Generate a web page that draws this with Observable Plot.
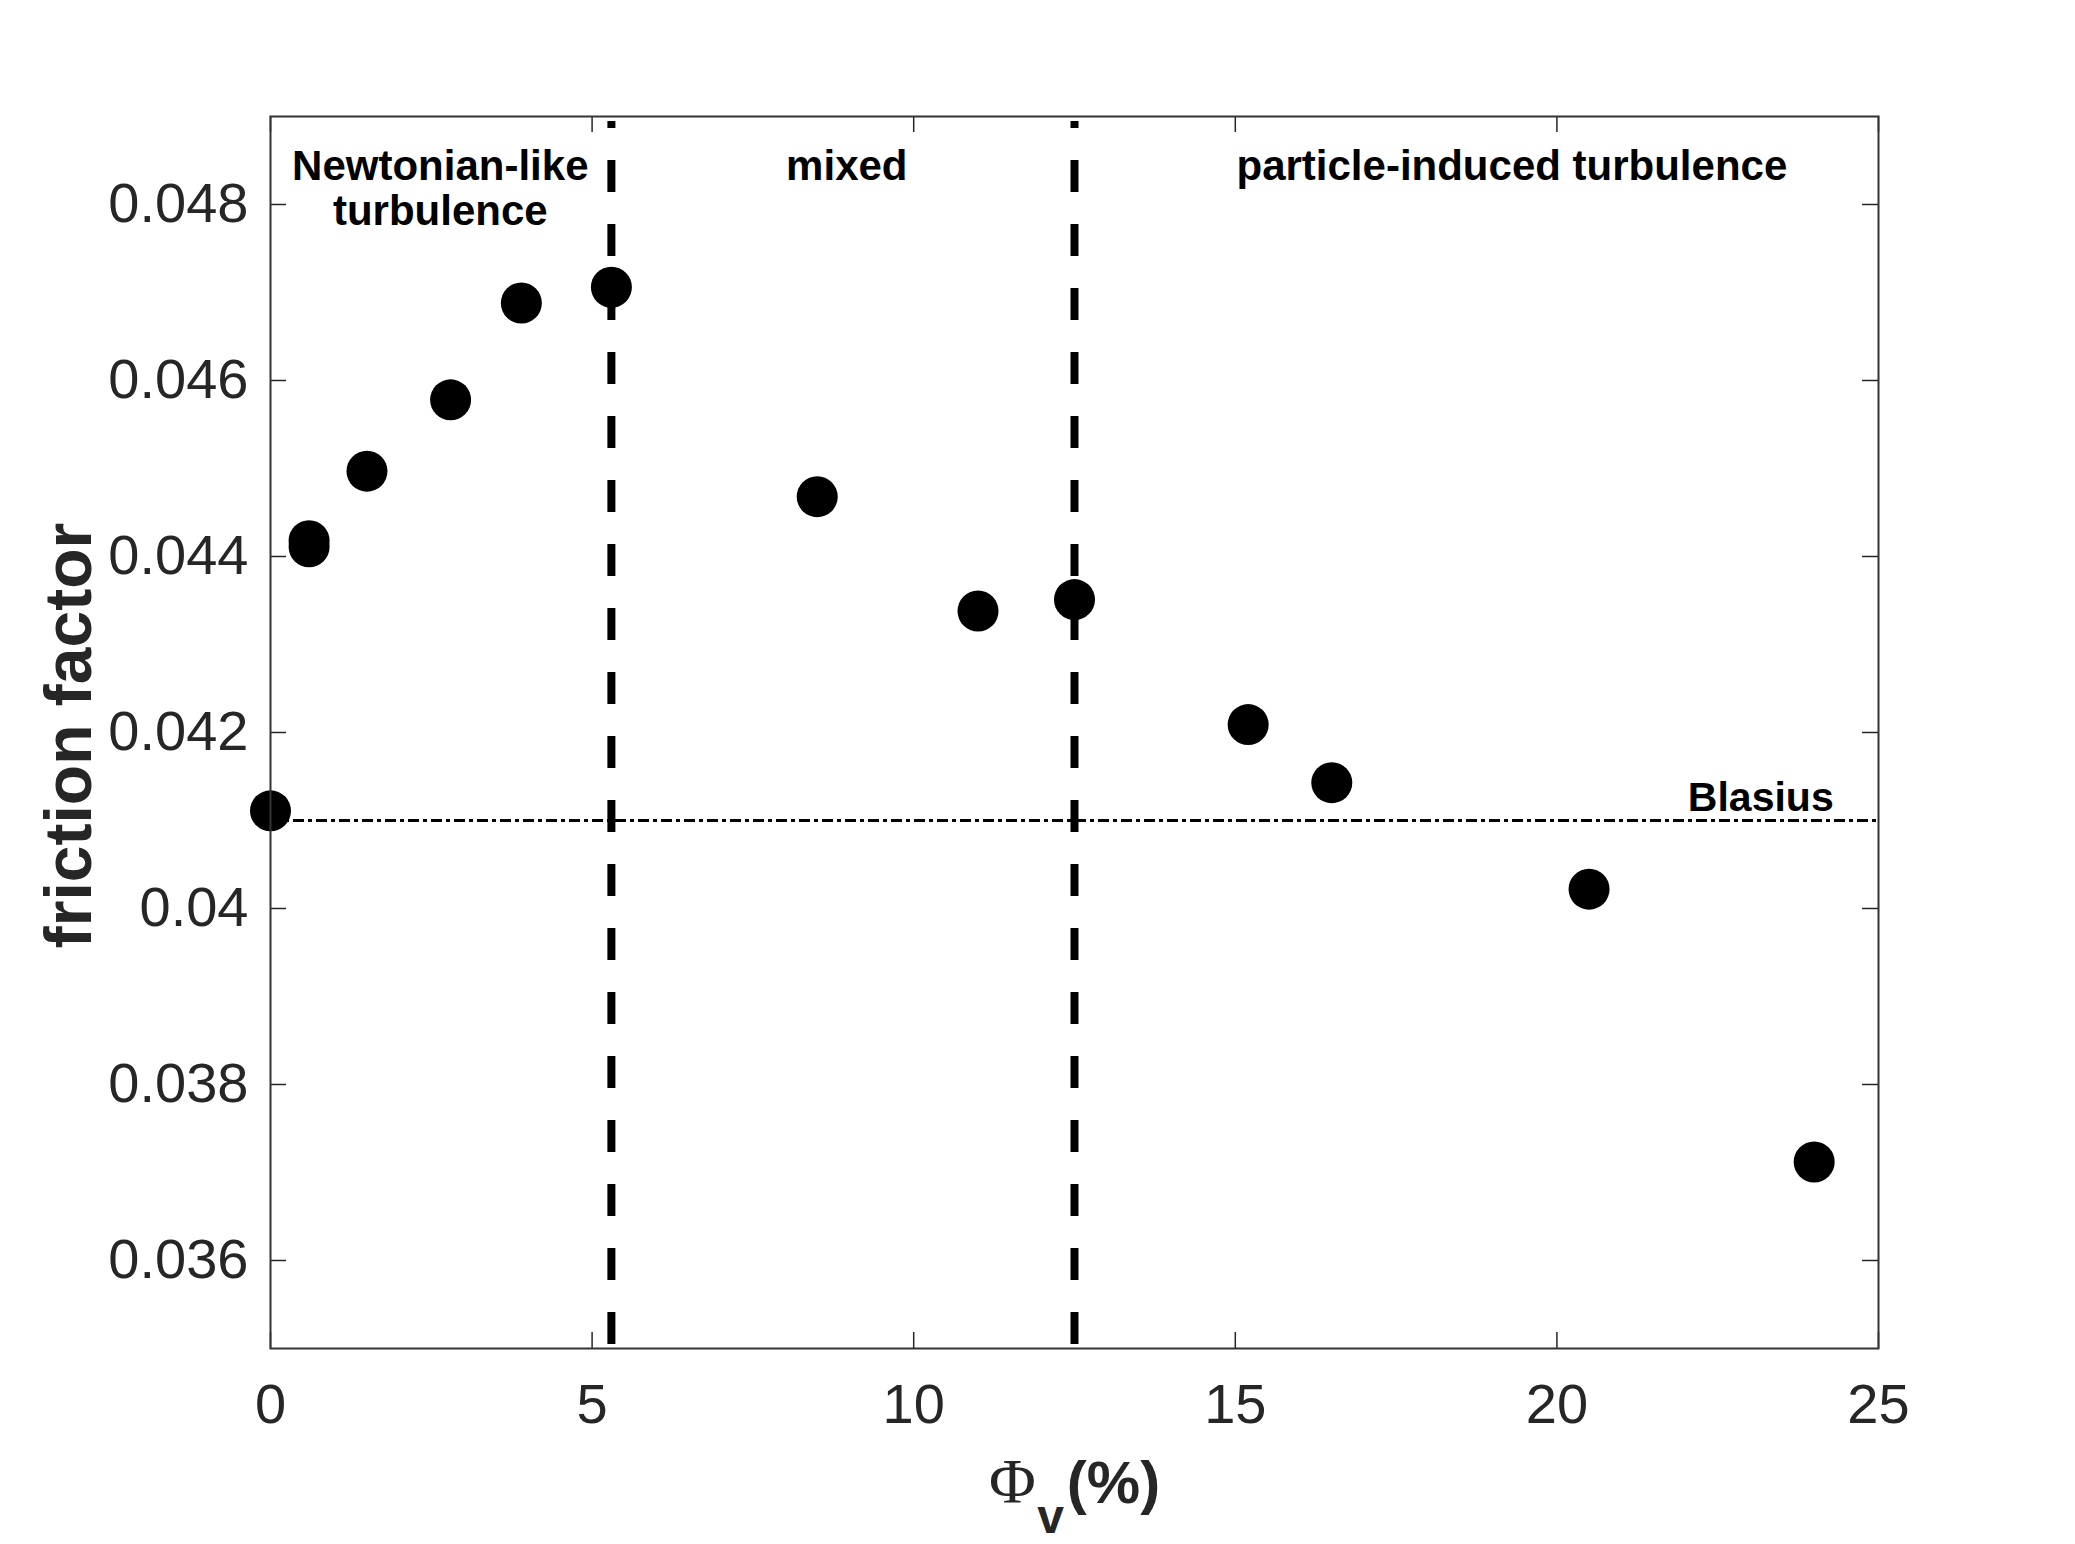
<!DOCTYPE html>
<html>
<head>
<meta charset="utf-8">
<script src="https://cdn.jsdelivr.net/npm/d3@7"></script>
<script src="https://cdn.jsdelivr.net/npm/@observablehq/plot@0.6"></script>
<style>
  html, body { margin: 0; padding: 0; background: #ffffff; }
  #chart svg { display: block; }
</style>
</head>
<body>
<div id="chart"></div>
<script>
// ---- data ----
const phiV = [0, 0.6, 0.6, 1.5, 2.8, 3.9, 5.3, 8.5, 11.0, 12.5, 15.2, 16.5, 20.5, 24.0];
const frictionFactor = [0.04111, 0.04418, 0.04411, 0.04497, 0.04578, 0.04688, 0.04706,
                        0.04468, 0.04338, 0.04351, 0.04209, 0.04143, 0.04022, 0.03712];
const regimeBounds = [5.3, 12.5];
const blasiusValue = 0.041;
const regimeLabels = ["Newtonian-like\nturbulence", "mixed", "particle-induced turbulence"];
const regimeLabelX = [2.64, 8.96, 19.3];
const xTicks = [0, 5, 10, 15, 20, 25];
const yTicks = [0.036, 0.038, 0.040, 0.042, 0.044, 0.046, 0.048];
const xDomain = [0, 25];
const yDomain = [0.035, 0.049];

// ---- layout ----
const W = 2075, H = 1544;
const mL = 270, mR = 197, mT = 116, mB = 196;
const plotW = W - mL - mR, plotH = H - mT - mB;
const tickLen = 16;
const axisColor = "#262626";

const points = phiV.map((x, i) => ({x, y: frictionFactor[i]}));

const chart = Plot.plot({
  width: W,
  height: H,
  marginLeft: mL, marginRight: mR, marginTop: mT, marginBottom: mB,
  style: {fontFamily: "'Liberation Sans', Arial, Helvetica, sans-serif", background: "#ffffff"},
  x: {domain: xDomain, ticks: xTicks},
  y: {domain: yDomain, ticks: yTicks},
  marks: [
    // axes labels (tick labels only)
    Plot.axisX({ticks: xTicks, tickSize: 0, tickPadding: 35, fontSize: 56, fill: axisColor, label: null}),
    Plot.axisY({ticks: yTicks, tickSize: 0, tickPadding: 22, fontSize: 56, fill: axisColor, label: null,
                tickFormat: d => String(+d.toFixed(3))}),
    // inward ticks on all four sides
    Plot.ruleX(xTicks, {x: d => d, insetTop: plotH - tickLen, stroke: axisColor, strokeWidth: 1.5}),
    Plot.ruleX(xTicks, {x: d => d, insetBottom: plotH - tickLen, stroke: axisColor, strokeWidth: 1.5}),
    Plot.ruleY(yTicks, {y: d => d, insetRight: plotW - tickLen, stroke: axisColor, strokeWidth: 1.5}),
    Plot.ruleY(yTicks, {y: d => d, insetLeft: plotW - tickLen, stroke: axisColor, strokeWidth: 1.5}),
    // Blasius reference line
    Plot.ruleY([blasiusValue], {y: d => d, stroke: "#000", strokeWidth: 3, strokeDasharray: "11,4,4,4"}),
    // regime boundaries
    Plot.ruleX(regimeBounds, {x: d => d, y1: yDomain[0], y2: yDomain[1], stroke: "#000",
                              strokeWidth: 8, strokeDasharray: "32,32", insetTop: -4, insetBottom: -5}),
    // data points
    Plot.dot(points, {x: "x", y: "y", r: 20.5, fill: "#000", stroke: "none"}),
    // regime labels
    Plot.text(regimeLabels.map((t, i) => ({t, x: regimeLabelX[i]})), {
      x: "x", text: "t", frameAnchor: "top", dy: 31, lineAnchor: "top", lineHeight: 1.08,
      fontSize: 42, fontWeight: "bold", fill: "#000"
    }),
    Plot.text(["Blasius"], {x: 23.17, y: blasiusValue, text: d => d, lineAnchor: "bottom", dy: -10,
      fontSize: 41, fontWeight: "bold", fill: "#000"}),
    // y axis title
    Plot.text(["friction factor"], {text: d => d, frameAnchor: "left", textAnchor: "middle", dx: -180, dy: 3,
      rotate: -90, lineAnchor: "bottom", fontSize: 66, fontWeight: "bold", fill: axisColor}),
    // x axis title: Φ_v(%)
    Plot.text(["\u03A6"], {text: d => d, frameAnchor: "bottom", dx: -62, dy: 154, lineAnchor: "bottom",
      fontSize: 64, fontFamily: "'Liberation Serif', 'Times New Roman', serif", fill: axisColor}),
    Plot.text(["v"], {text: d => d, frameAnchor: "bottom", dx: -24, dy: 184, lineAnchor: "bottom",
      fontSize: 48, fontWeight: "bold", fill: axisColor}),
    Plot.text(["(%)"], {text: d => d, frameAnchor: "bottom", dx: 39, dy: 154, lineAnchor: "bottom",
      fontSize: 60, fontWeight: "bold", fill: axisColor}),
    // frame
    Plot.frame({stroke: "#333333", strokeWidth: 2})
  ]
});
document.getElementById("chart").appendChild(chart);
</script>
</body>
</html>
